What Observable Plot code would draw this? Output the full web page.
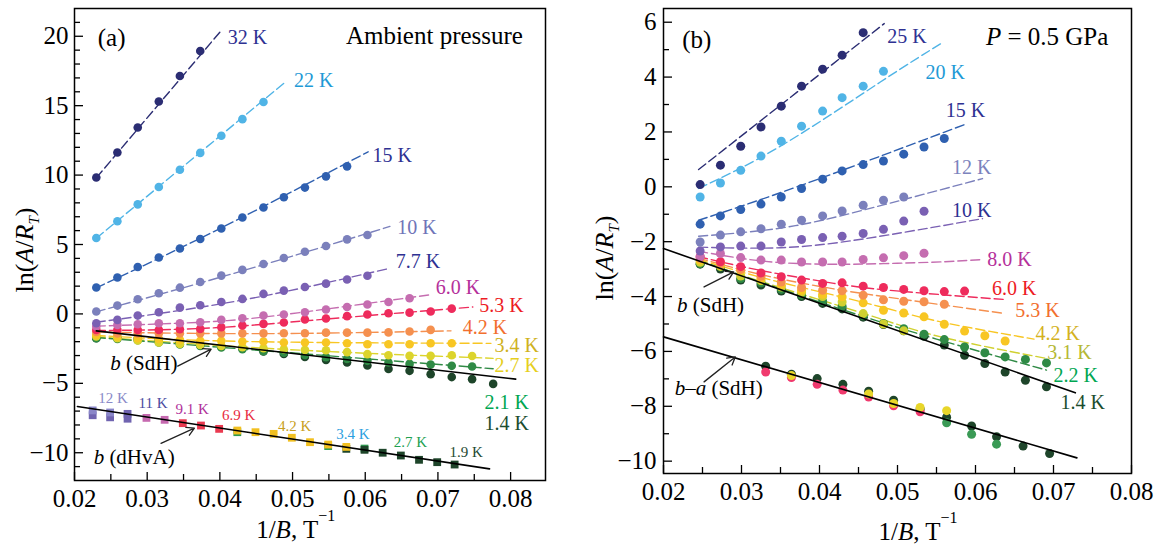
<!DOCTYPE html>
<html><head><meta charset="utf-8">
<script src="https://cdn.jsdelivr.net/npm/d3@7"></script>
<script src="https://cdn.jsdelivr.net/npm/@observablehq/plot@0.6"></script>
<style>body{margin:0;background:#fff}#wrap{display:flex;width:1158px;height:547px;overflow:hidden}</style>
</head><body><div id="wrap"></div>
<script>
const FONT = "Liberation Serif, 'Times New Roman', serif";

// ---------------- Panel (a): ambient pressure ----------------
const xA = [0.0230,0.0259,0.0287,0.0316,0.0345,0.0373,0.0402,0.0431,0.0460,0.0488,0.0517,0.0546,0.0575,0.0603,0.0632,0.0661,0.0690,0.0719,0.0747,0.0776];
const tempsA = ["32 K","22 K","15 K","10 K","7.7 K","6.0 K","5.3 K","4.2 K","3.4 K","2.7 K","2.1 K","1.4 K"];
const a32 = [9.83,11.63,13.43,15.30,17.14,18.94];
const a22 = [5.47,6.67,7.89,9.14,10.38,11.60,12.83,14.03,15.27];
const a15 = [1.90,2.62,3.38,4.06,4.71,5.40,6.15,6.94,7.66,8.40,9.10,9.91,10.63];
const a10 = [0.17,0.60,1.06,1.49,1.89,2.30,2.76,3.17,3.60,4.03,4.48,4.89,5.37,5.68];
const a77 = [-0.67,-0.43,-0.12,0.12,0.45,0.62,0.86,1.08,1.44,1.68,1.94,2.18,2.48,2.75];
const a60 = [-0.90,-0.79,-0.74,-0.67,-0.67,-0.60,-0.43,-0.31,-0.12,-0.04,0.12,0.32,0.50,0.68,0.86,1.13];
const a53 = [-1.15,-1.15,-1.15,-1.15,-1.10,-1.08,-0.96,-0.84,-0.72,-0.62,-0.40,-0.33,-0.16,-0.04,0.05,0.09,0.17,0.38];
const a42 = [-1.30,-1.40,-1.40,-1.40,-1.40,-1.40,-1.40,-1.40,-1.40,-1.39,-1.39,-1.35,-1.35,-1.35,-1.33,-1.27,-1.15];
const a34 = [-1.51,-1.63,-1.75,-1.80,-1.87,-1.94,-1.94,-1.99,-1.99,-2.06,-2.06,-2.06,-2.11,-2.18,-2.18,-2.18,-2.11,-2.11];
const a27 = [-1.63,-1.75,-1.92,-2.06,-2.16,-2.23,-2.30,-2.40,-2.47,-2.54,-2.59,-2.62,-2.75,-2.90,-2.98,-3.02,-3.02,-2.98,-3.03];
const a21 = [-1.75,-1.80,-1.90,-2.05,-2.20,-2.30,-2.42,-2.55,-2.68,-2.80,-2.95,-3.12,-3.25,-3.38,-3.50,-3.60,-3.65,-3.74,-3.79];
const a14 = [-1.75,-1.70,-1.75,-1.87,-2.04,-2.23,-2.35,-2.47,-2.71,-2.88,-3.10,-3.31,-3.50,-3.72,-3.96,-4.10,-4.34,-4.55,-4.70,-5.04];
const seriesA = [a32,a22,a15,a10,a77,a60,a53,a42,a34,a27,a21,a14];

// dashed fits, (1/B, ln) pairs
const fitA32 = [[0.0230,9.80],[0.0401,20.36]];
const fitA22 = [[0.0230,5.45],[0.0490,16.70]];
const fitA15 = [[0.0230,1.88],[0.0402,6.20],[0.0604,11.68]];
const fitA10 = [[0.0230,0.15],[0.0431,3.10],[0.0634,6.30]];
const fitA77 = [[0.0230,-0.60],[0.0431,1.00],[0.0634,3.29]];
const fitA60 = [[0.0230,-0.88],[0.0373,-0.60],[0.0488,-0.05],[0.0688,1.37]];
const fitA53 = [[0.0230,-1.20],[0.0373,-1.05],[0.0517,-0.50],[0.0748,0.50]];
const fitA42 = [[0.0230,-1.30],[0.0460,-1.42],[0.0718,-1.22]];
const fitA34 = [[0.0230,-1.55],[0.0431,-1.98],[0.0773,-2.12]];
const fitA27 = [[0.0230,-1.65],[0.0488,-2.55],[0.0776,-3.20]];
const fitA21 = [[0.0230,-1.70],[0.0776,-3.95]];
const fitsA = [fitA32,fitA22,fitA15,fitA10,fitA77,fitA60,fitA53,fitA42,fitA34,fitA27,fitA21,null];
const lineSdHA = [[0.0230,-1.22],[0.0807,-4.70]];
const lineDHvA = [[0.0204,-6.67],[0.0771,-11.16]];

// dHvA squares
const sqX = [0.0225,0.0249,0.0273,0.0299,0.0324,0.0349,0.0374,0.0399,0.0424,0.0449,0.0474,0.0499,0.0524,0.0549,0.0574,0.0599,0.0624,0.0649,0.0674,0.0699,0.0723];
const sqY = [-6.95,-7.10,-7.20,-7.49,-7.63,-7.87,-8.04,-8.28,-8.40,-8.52,-8.64,-8.92,-9.24,-9.41,-9.58,-9.79,-10.00,-10.20,-10.51,-10.68,-10.85];
const sqT = ["12 K","12 K","11 K","9.1 K","9.1 K","6.9 K","6.9 K","6.9 K","4.2 K","4.2 K","4.2 K","4.2 K","4.2 K","4.2 K","4.2 K","1.9 K","1.9 K","1.9 K","1.9 K","1.9 K","1.9 K"];
const sq2X = [0.0225,0.0249,0.0273,0.0424,0.0549,0.0574,0.0599];
const sq2Y = [-7.30,-7.45,-7.55,-8.52,-9.52,-9.72,-9.70];
const sq2T = ["11 K","11 K","11 K","2.7 K","2.7 K","1.9 K","2.7 K"];
const dHvATemps = ["12 K","11 K","9.1 K","6.9 K","4.2 K","3.4 K","2.7 K","1.9 K"];
const dHvALabelX = [0.0253,0.0308,0.0362,0.0426,0.0503,0.0583,0.0662,0.0739];
const dHvALabelY = [-6.07,-6.43,-6.84,-7.32,-8.09,-8.64,-9.24,-9.96];

const labelAX = [0.0411,0.0502,0.0610,0.0644,0.0642,0.0697,0.0757,0.0734,0.0778,0.0778,0.0764,0.0764];
const labelAY = [19.93,16.81,11.41,6.25,3.80,1.92,0.60,-0.96,-2.25,-3.75,-6.36,-7.92];

// ---------------- Panel (b): P = 0.5 GPa ----------------
const xB = [0.0247,0.0273,0.0299,0.0325,0.0351,0.0377,0.0404,0.0429,0.0456,0.0482,0.0508,0.0534,0.0560,0.0586,0.0612,0.0638,0.0664,0.0691];
const tempsB = ["25 K","20 K","15 K","12 K","10 K","8.0 K","6.0 K","5.3 K","4.2 K","3.1 K","2.2 K","1.4 K"];
const b25 = [0.08,0.79,1.48,2.18,2.94,3.67,4.29,4.80,5.62];
const b20 = [-0.37,0.14,0.60,1.12,1.66,2.21,2.76,3.25,3.67,4.21];
const b15 = [-1.36,-1.06,-0.83,-0.63,-0.37,-0.06,0.28,0.58,0.81,0.94,1.19,1.45,1.76];
const b12 = [-2.01,-1.76,-1.64,-1.53,-1.36,-1.22,-1.06,-0.88,-0.67,-0.49,-0.37];
const b10 = [-2.34,-2.19,-2.16,-2.16,-2.01,-1.92,-1.85,-1.80,-1.70,-1.55,-1.25,-0.89];
const b80 = [-2.55,-2.43,-2.58,-2.67,-2.67,-2.74,-2.74,-2.74,-2.65,-2.59,-2.51,-2.42];
const b60 = [-2.55,-2.73,-2.91,-3.14,-3.28,-3.40,-3.52,-3.50,-3.62,-3.67,-3.74,-3.79,-3.82,-3.80];
const b53 = [-2.61,-2.80,-3.01,-3.26,-3.47,-3.67,-3.77,-3.79,-3.95,-4.12,-4.17,-4.19,-4.28];
const b42 = [-2.67,-2.85,-3.04,-3.34,-3.59,-3.77,-3.92,-4.01,-4.23,-4.50,-4.60,-4.74,-5.01,-5.26,-5.43,-5.62];
const b31 = [-2.75,-2.90,-3.25,-3.42,-3.65,-3.85,-4.00,-4.20,-4.62,-5.00,-5.25];
const b22 = [-2.80,-2.92,-3.34,-3.50,-3.74,-3.95,-4.17,-4.35,-4.70,-4.98,-5.17,-5.37,-5.57,-5.84,-6.05,-6.20,-6.29,-6.42];
const b14 = [-2.82,-3.00,-3.40,-3.58,-3.80,-4.00,-4.25,-4.45,-4.75,-5.02,-5.25,-5.45,-5.77,-6.14,-6.44,-6.75,-7.05,-7.29];
const seriesB = [b25,b20,b15,b12,b10,b80,b60,b53,b42,b31,b22,b14];

const fitB25 = [[0.0245,0.63],[0.0483,5.95]];
const fitB20 = [[0.0245,-0.06],[0.0351,1.50],[0.0478,3.82],[0.0559,5.28]];
const fitB15 = [[0.0245,-1.22],[0.0377,0.06],[0.0587,2.28]];
const fitB12 = [[0.0245,-1.80],[0.0351,-1.50],[0.0456,-0.85],[0.0609,0.30]];
const fitB10 = [[0.0245,-2.20],[0.0350,-2.22],[0.0456,-1.90],[0.0609,-1.16]];
const fitB80 = [[0.0245,-2.35],[0.0325,-2.70],[0.0404,-2.82],[0.0482,-2.80],[0.0560,-2.73],[0.0609,-2.65]];
const fitB60 = [[0.0245,-2.55],[0.0325,-3.05],[0.0404,-3.45],[0.0482,-3.75],[0.0638,-4.11]];
const fitB53 = [[0.0245,-2.60],[0.0325,-3.20],[0.0404,-3.65],[0.0482,-4.00],[0.0638,-4.62]];
const fitB42 = [[0.0245,-2.65],[0.0325,-3.30],[0.0404,-3.85],[0.0482,-4.40],[0.0560,-4.95],[0.0675,-5.55]];
const fitB31 = [[0.0245,-2.70],[0.0325,-3.45],[0.0404,-4.15],[0.0482,-4.85],[0.0560,-5.50],[0.0692,-6.26]];
const fitB22 = [[0.0245,-2.68],[0.0350,-3.72],[0.0450,-4.67],[0.0550,-5.55],[0.0691,-6.68]];
const fitsB = [fitB25,fitB20,fitB15,fitB12,fitB10,fitB80,fitB60,fitB53,fitB42,fitB31,fitB22,null];
const lineSdHB = [[0.0200,-2.25],[0.0728,-7.51]];
const lineBaB = [[0.0200,-5.47],[0.0730,-9.88]];

// b-a (SdH) points
const baX14 = [0.0331,0.0364,0.0397,0.0430,0.0463,0.0495,0.0529,0.0563,0.0595,0.0627,0.0661,0.0695];
const baY14 = [-6.54,-6.83,-6.99,-7.20,-7.45,-7.78,-8.10,-8.40,-8.72,-9.11,-9.45,-9.72];
const baX60 = [0.0331,0.0364,0.0397,0.0430,0.0463,0.0495,0.0529];
const baY60 = [-6.75,-6.95,-7.20,-7.41,-7.66,-7.98,-8.20];
const baX42 = [0.0364,0.0463,0.0495,0.0529,0.0563];
const baY42 = [-6.88,-7.55,-7.90,-8.04,-8.16];
const baX22 = [0.0563,0.0595,0.0627];
const baY22 = [-8.60,-9.02,-9.38];

const labelBX = [0.0487,0.0536,0.0562,0.0570,0.0570,0.0615,0.0621,0.0651,0.0677,0.0692,0.0700,0.0709];
const labelBY = [5.46,4.15,2.79,0.70,-0.85,-2.67,-3.71,-4.50,-5.35,-6.05,-6.88,-7.88];

// ---------------- styles ----------------
const dotColA = ["#2b2d73","#50b4e6","#2f60b0","#7b80bc","#7a60b3","#c56db0","#ee2b5c","#f5904f","#f8c623","#dcd42c","#2f8a45","#1e452a"];
const labColA = ["#2e3192","#1e9ad6","#2e3192","#6f74b8","#2e3192","#b5309b","#ed1c24","#f26f2e","#cfb21e","#e6cf1e","#00a651","#1b4d2e"];
const dotColB = ["#2b2d73","#50b4e6","#2f60b0","#7b80bc","#7a60b3","#c56db0","#ee2b5c","#f5904f","#f8c623","#d0d030","#2f8a45","#1e452a"];
const labColB = ["#2e3192","#1e9ad6","#2e3192","#7c83bd","#2e3192","#b5309b","#ed1c24","#f26f2e","#d4b21e","#b5b835","#00a651","#1b4d2e"];
const dHvACol = {"12 K":"#8a86c8","11 K":"#7064b0","9.1 K":"#c66ab0","6.9 K":"#ea3a50","4.2 K":"#f2c020","3.4 K":"#2aa0e0","2.7 K":"#2f9a50","1.9 K":"#1e452a"};
const dHvALabCol = ["#8a8ac8","#4a4aa0","#b0309a","#e82a40","#c8a020","#2aa0e0","#20a050","#1e4a32"];

// ---------------- table builders ----------------
function dotsTable(xs, series, cols) {
  const out = [];
  series.forEach((ys, k) => ys.forEach((y, i) => out.push({x: xs[i], y, c: cols[k], k})));
  return out.reverse();
}
function fitsTable(fits, cols) {
  const out = [];
  fits.forEach((f, k) => { if (f) f.forEach(p => out.push({x: p[0], y: p[1], c: cols[k], k})); });
  return out;
}
function labelsTable(texts, xs, ys, cols) { return texts.map((t, i) => ({x: xs[i], y: ys[i], t, c: cols[i]})); }
const pair = {x: d => d[0], y: d => d[1]};

function ticksMarks(xMaj, xMin, yMaj, yMin, fw, fh) {
  return [
    Plot.tickX(xMaj, {x: d => d, insetTop: fh - 8, stroke: "black", strokeWidth: 1.3}),
    Plot.tickX(xMin, {x: d => d, insetTop: fh - 6, stroke: "black", strokeWidth: 1.3}),
    Plot.tickY(yMaj, {y: d => d, insetRight: fw - 9, stroke: "black", strokeWidth: 1.3}),
    Plot.tickY(yMin, {y: d => d, insetRight: fw - 6, stroke: "black", strokeWidth: 1.3})
  ];
}

const xMaj = [0.02,0.03,0.04,0.05,0.06,0.07,0.08];
const xMin = [0.025,0.035,0.045,0.055,0.065,0.075];
const yMajA = [-10,-5,0,5,10,15,20];
const yMinA = d3.range(-11, 22).filter(v => v % 5 !== 0);
const yMajB = [-10,-8,-6,-4,-2,0,2,4,6];
const yMinB = [-9,-7,-5,-3,-1,1,3,5];

const dashed = {x: "x", y: "y", z: "k", stroke: "c", strokeWidth: 1.4, strokeDasharray: "9,4", curve: "natural"};
const dotOpt = {x: "x", y: "y", fill: "c", r: 4.3, stroke: "none"};

// ---------------- plot (a) ----------------
const WA = 580, H = 547;
const plotA = Plot.plot({
  width: WA, height: H, marginLeft: 74, marginRight: 35, marginTop: 8, marginBottom: 67,
  x: {domain: [0.02, 0.0848]}, y: {domain: [-12, 22]},
  style: {fontFamily: FONT, fontSize: "25px", background: "white", color: "black"},
  marks: [
    Plot.axisX({ticks: xMaj, tickSize: 0, tickPadding: 9, tickFormat: d3.format(".2f"), label: null}),
    Plot.axisY({ticks: yMajA, tickSize: 0, tickPadding: 6, tickFormat: d3.format("d"), label: null}),
    ...ticksMarks(xMaj, xMin, yMajA, yMinA, 471, 472),
    Plot.line(fitsTable(fitsA, dotColA), dashed),
    Plot.dot(dotsTable(xA, seriesA, dotColA), dotOpt),
    Plot.line(lineSdHA, {...pair, stroke: "black", strokeWidth: 1.6}),
    Plot.dot(sq2X.map((x, i) => ({x, y: sq2Y[i], c: dHvACol[sq2T[i]]})), {x: "x", y: "y", fill: "c", symbol: "square", r: 4.4}),
    Plot.dot(sqX.map((x, i) => ({x, y: sqY[i], c: dHvACol[sqT[i]]})), {x: "x", y: "y", fill: "c", symbol: "square", r: 4.4}),
    Plot.line(lineDHvA, {...pair, stroke: "black", strokeWidth: 1.6}),
    Plot.arrow([{x1: 0.0342, y1: -3.76, x2: 0.0388, y2: -2.54}, {x1: 0.0319, y1: -9.32, x2: 0.0365, y2: -8.23}],
      {x1: "x1", y1: "y1", x2: "x2", y2: "y2", stroke: "#222", strokeWidth: 1.3, headLength: 10}),
    Plot.text(labelsTable(tempsA, labelAX, labelAY, labColA), {x: "x", y: "y", text: "t", fill: "c", textAnchor: "start", fontSize: 20}),
    Plot.text(labelsTable(dHvATemps, dHvALabelX, dHvALabelY, dHvALabCol), {x: "x", y: "y", text: "t", fill: "c", textAnchor: "middle", fontSize: 15}),
    Plot.text(["(a)"], {x: 0.0232, y: 19.91, text: d => d, textAnchor: "start", fontSize: 25}),
    Plot.text(["Ambient pressure"], {x: 0.0817, y: 19.99, text: d => d, textAnchor: "end", fontSize: 25}),
    Plot.frame({stroke: "black", strokeWidth: 1.5})
  ]
});

// ---------------- plot (b) ----------------
const WB = 578;
const plotB = Plot.plot({
  width: WB, height: H, marginLeft: 83, marginRight: 27, marginTop: 8, marginBottom: 74,
  x: {domain: [0.02, 0.08]}, y: {domain: [-10.45, 6.5]},
  style: {fontFamily: FONT, fontSize: "25px", background: "white", color: "black"},
  marks: [
    Plot.axisX({ticks: xMaj, tickSize: 0, tickPadding: 9, tickFormat: d3.format(".2f"), label: null}),
    Plot.axisY({ticks: yMajB, tickSize: 0, tickPadding: 7, tickFormat: d3.format("d"), label: null}),
    ...ticksMarks(xMaj, xMin, yMajB, yMinB, 468, 465),
    Plot.line(fitsTable(fitsB, dotColB), dashed),
    Plot.dot(dotsTable(xB, seriesB, dotColB), {...dotOpt, r: 4.5}),
    Plot.line(lineSdHB, {...pair, stroke: "black", strokeWidth: 1.6}),
    Plot.dot(baX14.map((x, i) => ({x, y: baY14[i]})), {x: "x", y: "y", fill: dotColB[11], r: 4.5}),
    Plot.dot(baX60.map((x, i) => ({x, y: baY60[i]})), {x: "x", y: "y", fill: "#f03a6e", r: 4.5}),
    Plot.dot(baX42.map((x, i) => ({x, y: baY42[i]})), {x: "x", y: "y", fill: "#e8d62a", r: 4.5}),
    Plot.dot(baX22.map((x, i) => ({x, y: baY22[i]})), {x: "x", y: "y", fill: "#3a9a55", r: 4.5}),
    Plot.line(lineBaB, {...pair, stroke: "black", strokeWidth: 1.6}),
    Plot.arrow([{x1: 0.0252, y1: -3.65, x2: 0.0290, y2: -3.10}, {x1: 0.0252, y1: -7.11, x2: 0.0292, y2: -6.20}],
      {x1: "x1", y1: "y1", x2: "x2", y2: "y2", stroke: "#222", strokeWidth: 1.3, headLength: 10}),
    Plot.text(labelsTable(tempsB, labelBX, labelBY, labColB), {x: "x", y: "y", text: "t", fill: "c", textAnchor: "start", fontSize: 20}),
    Plot.text(["(b)"], {x: 0.0224, y: 5.34, text: d => d, textAnchor: "start", fontSize: 25}),
    Plot.frame({stroke: "black", strokeWidth: 1.5})
  ]
});

// ---------------- rich text (italics, sub/superscripts) ----------------
function rich(svg, x, y, parts, size, anchor, rotate) {
  const t = d3.select(svg).append("text")
    .attr("font-family", FONT).attr("font-size", size).attr("text-anchor", anchor || "start").attr("fill", "black");
  if (rotate) t.attr("transform", `translate(${x},${y}) rotate(-90)`); else t.attr("x", x).attr("y", y);
  parts.forEach(p => {
    const s = t.append("tspan").text(p.t);
    if (p.i) s.attr("font-style", "italic");
    if (p.s) s.attr("font-size", p.s);
    if (p.dy) s.attr("dy", p.dy);
  });
  return t;
}
const yTitle = [{t: "ln("}, {t: "A", i: 1}, {t: "/"}, {t: "R", i: 1}, {t: "T", i: 1, s: 15, dy: 6}, {t: ")", dy: -6}];
const xTitle = [{t: "1/"}, {t: "B", i: 1}, {t: ", T"}, {t: "\u22121", s: 16, dy: -17}];

const sxA = plotA.scale("x"), syA = plotA.scale("y");
const sxB = plotB.scale("x"), syB = plotB.scale("y");
rich(plotA, 33, 250, yTitle, 26, "middle", true);
rich(plotA, sxA.apply(0.0505), 538, xTitle, 25, "middle");
rich(plotA, sxA.apply(0.0250), syA.apply(-3.6) + 7, [{t: "b", i: 1}, {t: " (SdH)"}], 21);
rich(plotA, sxA.apply(0.0227), syA.apply(-10.32) + 7, [{t: "b", i: 1}, {t: " (dHvA)"}], 21);

rich(plotB, 33, 258, yTitle, 26, "middle", true);
rich(plotB, sxB.apply(0.0527), 540, xTitle, 25, "middle");
rich(plotB, sxB.apply(0.0218), syB.apply(-4.31) + 7, [{t: "b", i: 1}, {t: " (SdH)"}], 21);
rich(plotB, sxB.apply(0.0215), syB.apply(-7.35) + 7, [{t: "b", i: 1}, {t: "\u2013"}, {t: "a", i: 1}, {t: " (SdH)"}], 21);
rich(plotB, sxB.apply(0.0771), syB.apply(5.45) + 8, [{t: "P", i: 1}, {t: " = 0.5 GPa"}], 25, "end");

document.getElementById("wrap").append(plotA, plotB);
</script></body></html>
